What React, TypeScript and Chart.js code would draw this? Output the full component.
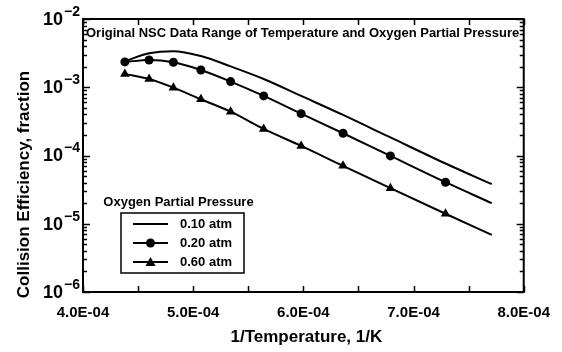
import { useEffect, useRef } from "react";
import { Chart, registerables } from "chart.js";

Chart.register(...registerables);

// 1/T sample positions (1/K); the last entry is where the curves end (no marker)
const invTemperature = [4.38e-4, 4.6e-4, 4.82e-4, 5.07e-4, 5.34e-4, 5.64e-4, 5.98e-4, 6.36e-4, 6.79e-4, 7.29e-4, 7.71e-4];

// Collision efficiency for each oxygen partial pressure
const eff010 = [2.4e-3, 3.15e-3, 3.38e-3, 2.87e-3, 2.02e-3, 1.32e-3, 7.46e-4, 3.93e-4, 1.84e-4, 7.64e-5, 3.8e-5];
const eff020 = [2.35e-3, 2.51e-3, 2.32e-3, 1.79e-3, 1.21e-3, 7.46e-4, 4.1e-4, 2.12e-4, 9.87e-5, 4.06e-5, 2.0e-5];
const eff060 = [1.57e-3, 1.32e-3, 9.87e-4, 6.67e-4, 4.39e-4, 2.45e-4, 1.38e-4, 7.05e-5, 3.32e-5, 1.4e-5, 6.87e-6];

const seriesLabels = ["0.10 atm", "0.20 atm", "0.60 atm"];
const xTickValues = [4e-4, 5e-4, 6e-4, 7e-4, 8e-4];
const yDecades = [-2, -3, -4, -5, -6];

const chartTitle = "Original NSC Data Range of Temperature and Oxygen Partial Pressure";
const legendTitle = "Oxygen Partial Pressure";
const xTitle = "1/Temperature, 1/K";
const yTitle = "Collision Efficiency, fraction";

const FONT = '"Liberation Sans", Arial, Helvetica, sans-serif';

function sciLabel(v: number): string {
  const [m, e] = v.toExponential(1).split("e");
  const n = parseInt(e, 10);
  return `${m}E${n < 0 ? "-" : "+"}${String(Math.abs(n)).padStart(2, "0")}`;
}

function lastless(len: number, r: number) {
  return (c: any) => (c.dataIndex === len - 1 ? 0 : r);
}

// Frame, inward tick marks, superscript decade labels, titles and the legend box
const decorations = {
  id: "decorations",
  afterDatasetsDraw(chart: any) {
    const { ctx, chartArea: a, scales } = chart;
    const x = scales.x;
    const y = scales.y;
    const seg = (x1: number, y1: number, x2: number, y2: number) => {
      ctx.beginPath();
      ctx.moveTo(x1, y1);
      ctx.lineTo(x2, y2);
      ctx.stroke();
    };
    ctx.save();
    ctx.strokeStyle = "#000";
    ctx.fillStyle = "#000";

    // plot frame
    ctx.lineWidth = 2;
    ctx.strokeRect(a.left, a.top, a.right - a.left, a.bottom - a.top);

    // x ticks: labelled values plus the half-way marks
    ctx.lineWidth = 1.5;
    const xt: number[] = [];
    xTickValues.forEach((v, i) => {
      xt.push(v);
      if (i < xTickValues.length - 1) xt.push((v + xTickValues[i + 1]) / 2);
    });
    xt.forEach((v) => {
      const px = Math.round(x.getPixelForValue(v)) + 0.5;
      seg(px, a.bottom, px, a.bottom - 6);
      seg(px, a.top, px, a.top + 6);
    });

    // y ticks: decades and 2..9 minor marks
    yDecades.forEach((d) => {
      for (let k = 1; k <= 9; k++) {
        if (d === -2 && k > 1) break;
        const v = k * Math.pow(10, d);
        const py = Math.round(y.getPixelForValue(v)) + 0.5;
        const len = k === 1 ? 7 : 4;
        seg(a.left, py, a.left + len, py);
        seg(a.right, py, a.right - len, py);
      }
    });

    // y decade labels: 10 with a raised exponent
    yDecades.forEach((d) => {
      const py = y.getPixelForValue(Math.pow(10, d));
      const exp = `\u2212${Math.abs(d)}`;
      ctx.font = `bold 14px ${FONT}`;
      const we = ctx.measureText(exp).width;
      const expLeft = a.left - 3 - we;
      ctx.textAlign = "left";
      ctx.textBaseline = "middle";
      ctx.fillText(exp, expLeft, py - 7);
      ctx.font = `bold 18px ${FONT}`;
      ctx.textAlign = "right";
      ctx.fillText("10", expLeft - 1, py + 1);
    });

    // in-plot title, fitted across the frame
    ctx.font = `bold 13px ${FONT}`;
    ctx.textAlign = "left";
    ctx.textBaseline = "middle";
    const tw = ctx.measureText(chartTitle).width;
    const avail = a.right - a.left - 6;
    ctx.save();
    ctx.translate(a.left + 3, a.top + 14);
    ctx.scale(Math.min(1, avail / tw), 1);
    ctx.fillText(chartTitle, 0, 0);
    ctx.restore();

    // axis titles
    ctx.font = `bold 17px ${FONT}`;
    ctx.textAlign = "center";
    ctx.textBaseline = "middle";
    ctx.fillText(xTitle, (a.left + a.right) / 2 + 3, a.bottom + 45);
    ctx.save();
    ctx.translate(24, (a.top + a.bottom) / 2 + 29);
    ctx.rotate(-Math.PI / 2);
    ctx.fillText(yTitle, 0, 0);
    ctx.restore();

    // legend
    const lx = a.left + 38;
    const ly = a.top + 194;
    const lw = 123;
    const lh = 60;
    ctx.font = `bold 13px ${FONT}`;
    ctx.textAlign = "center";
    ctx.fillText(legendTitle, lx + lw / 2 - 4, ly - 11);
    ctx.fillStyle = "#fff";
    ctx.fillRect(lx, ly, lw, lh);
    ctx.fillStyle = "#000";
    ctx.lineWidth = 1.5;
    ctx.strokeRect(lx, ly, lw, lh);
    chart.data.datasets.forEach((ds: any, i: number) => {
      const ry = ly + 11 + i * 19;
      ctx.lineWidth = 2;
      seg(lx + 12, ry, lx + 47, ry);
      const cx = lx + 29.5;
      if (ds.pointStyle === "circle") {
        ctx.beginPath();
        ctx.arc(cx, ry, 4.5, 0, Math.PI * 2);
        ctx.fill();
      } else if (ds.pointStyle === "triangle") {
        ctx.beginPath();
        ctx.moveTo(cx, ry - 5);
        ctx.lineTo(cx + 5, ry + 4);
        ctx.lineTo(cx - 5, ry + 4);
        ctx.closePath();
        ctx.fill();
      }
      ctx.textAlign = "left";
      ctx.fillText(ds.label, lx + 59, ry);
    });

    ctx.restore();
  },
};

export default function App() {
  const canvasRef = useRef<HTMLCanvasElement | null>(null);

  useEffect(() => {
    const canvas = canvasRef.current;
    if (!canvas) return;
    const n = invTemperature.length;
    const pts = (vals: number[]) => invTemperature.map((t, i) => ({ x: t, y: vals[i] }));
    const common = {
      borderColor: "#000",
      backgroundColor: "#000",
      borderWidth: 2,
      cubicInterpolationMode: "monotone" as const,
      pointBorderWidth: 0,
    };
    const chart = new Chart(canvas, {
      type: "line",
      data: {
        datasets: [
          { ...common, label: seriesLabels[0], data: pts(eff010), pointRadius: 0, pointStyle: false as any },
          { ...common, label: seriesLabels[1], data: pts(eff020), pointStyle: "circle", pointRadius: lastless(n, 4.5) },
          { ...common, label: seriesLabels[2], data: pts(eff060), pointStyle: "triangle", pointRadius: lastless(n, 5.5) },
        ],
      },
      options: {
        animation: false,
        responsive: false,
        devicePixelRatio: 1,
        layout: { padding: { left: 0, top: 19, right: 35, bottom: 0 } },
        plugins: { legend: { display: false }, tooltip: { enabled: false }, title: { display: false } },
        scales: {
          x: {
            type: "linear",
            min: 4e-4,
            max: 8e-4,
            grid: { display: false, drawTicks: false },
            border: { display: false },
            afterBuildTicks: (s: any) => {
              s.ticks = xTickValues.map((v) => ({ value: v }));
            },
            afterFit: (s: any) => {
              s.height = 60;
            },
            ticks: {
              autoSkip: false,
              maxRotation: 0,
              padding: 12,
              color: "#000",
              font: { family: FONT, size: 15, weight: "bold" },
              callback: (v: any) => sciLabel(Number(v)),
            },
          },
          y: {
            type: "logarithmic",
            min: 1e-6,
            max: 1e-2,
            grid: { display: false, drawTicks: false },
            border: { display: false },
            ticks: { display: false },
            afterFit: (s: any) => {
              s.width = 83;
            },
          },
        },
      },
      plugins: [decorations],
    });
    return () => chart.destroy();
  }, []);

  return (
    <div style={{ position: "absolute", left: 0, top: 0, width: 562, height: 352, background: "#fff" }}>
      <canvas ref={canvasRef} width={562} height={352} style={{ width: 562, height: 352, display: "block" }} />
    </div>
  );
}
